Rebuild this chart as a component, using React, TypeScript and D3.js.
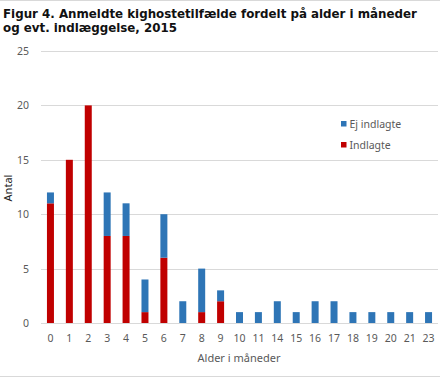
import React from "react";
import * as d3 from "d3";

const categories = ["0","1","2","3","4","5","6","7","8","9","10","11","14","15","16","17","18","19","20","21","23"];
const indlagte = [11,15,20,8,8,1,6,0,1,2,0,0,0,0,0,0,0,0,0,0,0];
const ejIndlagte = [1,0,0,4,3,3,4,2,4,1,1,1,2,1,2,2,1,1,1,1,1];
const yTicks = [0,5,10,15,20,25];
const seriesNames = ["Ej indlagte", "Indlagte"];
const colors = { ej: "#2E75B6", ind: "#C00000" };

export default function App() {
  const W = 440, H = 380;
  const x = d3.scaleBand<string>().domain(categories).range([41, 438]).paddingInner(0.63).paddingOuter(0.315);
  const y = d3.scaleLinear().domain([0, 25]).range([323, 51]);
  const tickFont = "'Noto Sans', 'Open Sans', sans-serif";
  return (
    <svg width={W} height={H} style={{ position: "absolute", left: 0, top: 0, background: "#fff" }}>
      <line x1={0} x2={W} y1={0.5} y2={0.5} stroke="#d9d9d9" />
      <line x1={0} x2={W} y1={376.5} y2={376.5} stroke="#d9d9d9" />
      <text x={3} y={18} fontFamily="'DejaVu Sans', Verdana, sans-serif" fontWeight="bold" fontSize={11.85} fill="#111">Figur 4. Anmeldte kighostetilfælde fordelt på alder i måneder</text>
      <text x={3} y={32} fontFamily="'DejaVu Sans', Verdana, sans-serif" fontWeight="bold" fontSize={11.85} fill="#111">og evt. indlæggelse, 2015</text>
      {yTicks.map(t => (
        <g key={t}>
          <line x1={41} x2={438} y1={Math.round(y(t)) + 0.5} y2={Math.round(y(t)) + 0.5} stroke="#d9d9d9" />
          <text x={29} y={y(t) + 4} textAnchor="end" fontFamily={tickFont} fontSize={10.5} fill="#595959">{t}</text>
        </g>
      ))}
      {categories.map((c, i) => {
        const bx = x(c)!;
        const bw = x.bandwidth();
        const a = indlagte[i], b = ejIndlagte[i];
        return (
          <g key={c}>
            {a > 0 && <rect x={bx} width={bw} y={y(a)} height={y(0) - y(a)} fill={colors.ind} />}
            {b > 0 && <rect x={bx} width={bw} y={y(a + b)} height={y(a) - y(a + b)} fill={colors.ej} />}
            <text x={bx + bw / 2} y={342} textAnchor="middle" fontFamily={tickFont} fontSize={10.5} fill="#595959">{c}</text>
          </g>
        );
      })}
      <line x1={41} x2={438} y1={323.5} y2={323.5} stroke="#d9d9d9" />
      <text x={239} y={362} textAnchor="middle" fontFamily={tickFont} fontSize={11} fill="#595959">Alder i måneder</text>
      <text transform="translate(12,188) rotate(-90)" textAnchor="middle" fontFamily={tickFont} fontSize={11} fill="#222">Antal</text>
      {seriesNames.map((n, i) => (
        <g key={n}>
          <rect x={341} y={121 + i * 21} width={5.5} height={5.5} fill={i === 0 ? colors.ej : colors.ind} />
          <text x={349.5} y={127.5 + i * 21} fontFamily={tickFont} fontSize={10.5} fill="#595959">{n}</text>
        </g>
      ))}
    </svg>
  );
}
